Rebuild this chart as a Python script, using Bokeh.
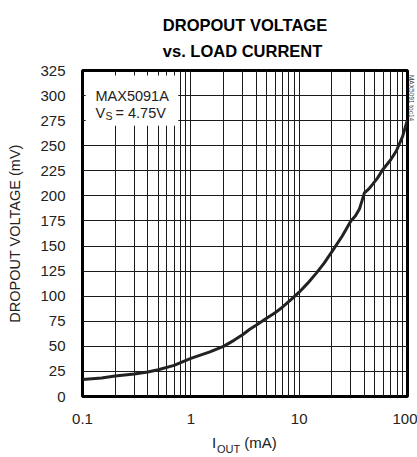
import math
from bokeh.plotting import figure
from bokeh.models import (Range1d, FixedTicker, Label, Title, BoxAnnotation, LogAxis,
                          LinearAxis, CustomJSTickFormatter)
from bokeh.embed import file_html
from bokeh.resources import INLINE

# ---- data ----
current_ma = [0.1, 0.15, 0.2, 0.3, 0.4, 0.5, 0.7, 1, 1.5, 2, 2.5, 3, 3.5, 4, 5, 6, 7, 8.5,
              10, 12, 14.4, 17, 20.5, 25, 30, 33, 36, 38, 40, 44, 48, 53, 59, 70, 79, 90, 100]
dropout_mv = [17, 18.5, 20.5, 22.5, 24.5, 26.7, 31, 38, 44.5, 50, 56, 61.5, 67, 71, 78, 83.5, 89, 97,
              104, 113, 123, 133, 146, 160, 175, 180, 187, 195, 203, 207, 212, 218, 226, 236, 245, 259, 276]

x_tick_values = [0.1, 1, 10, 100]
x_tick_labels = ["0.1", "1", "10", "100"]
x_grid_values = [0.1, 0.2, 0.3, 0.4, 0.5, 0.6, 0.7, 0.8, 0.9,
                 1, 2, 3, 4, 5, 6, 7, 8, 9,
                 10, 20, 30, 40, 50, 60, 70, 80, 90, 100]
y_tick_values = [0, 25, 50, 75, 100, 125, 150, 175, 200, 225, 250, 275, 300, 325]

title_lines = ["DROPOUT VOLTAGE", "vs. LOAD CURRENT"]
y_label = "DROPOUT VOLTAGE (mV)"
part_name = "MAX5091A"
supply_main, supply_sub, supply_rest = "V", "S", "= 4.75V"
xlab_main, xlab_sub, xlab_rest = "I", "OUT", "(mA)"
toc_text = "MAX5091 toc14"

FONT = "Liberation Sans"
NB = "\u00a0"

p = figure(width=417, height=457, x_axis_type="log",
           x_range=Range1d(0.1, 100), y_range=Range1d(0, 325),
           output_backend="svg", toolbar_location=None, title=None,
           min_border_left=82, min_border_right=8, min_border_top=70, min_border_bottom=60)

p.add_layout(Title(text="\n".join(title_lines), align="center", vertical_align="top",
                   text_font=FONT, text_font_size="16.5px", text_font_style="bold",
                   text_color="black", text_line_height=1.45, standoff=18), "above")

p.background_fill_color = "white"
p.border_fill_color = "white"
p.outline_line_color = "black"
p.outline_line_width = 3

# grids
p.xgrid.ticker = FixedTicker(ticks=x_grid_values)
p.ygrid.ticker = FixedTicker(ticks=y_tick_values)
for g in (p.xgrid, p.ygrid):
    g.grid_line_color = "#1a1a1a"
    g.grid_line_width = 1
    g.grid_line_alpha = 1


def style_axis(ax, size="15px"):
    ax.axis_line_color = None
    ax.major_tick_line_color = None
    ax.minor_tick_line_color = None
    ax.major_tick_out = 0
    ax.major_tick_in = 0
    ax.major_label_text_font = FONT
    ax.major_label_text_font_size = size
    ax.major_label_text_color = "#222222"


# main axes
p.xaxis.ticker = FixedTicker(ticks=x_tick_values)
p.xaxis.formatter = CustomJSTickFormatter(args=dict(labels=x_tick_labels), code="return labels[index]")
p.yaxis.ticker = FixedTicker(ticks=y_tick_values)
style_axis(p.xaxis[0])
style_axis(p.yaxis[0])
p.xaxis.major_label_standoff = 17
p.yaxis.major_label_standoff = 17
p.yaxis.axis_label = y_label
p.yaxis.axis_label_text_font = FONT
p.yaxis.axis_label_text_font_size = "14.5px"
p.yaxis.axis_label_text_font_style = "normal"
p.yaxis.axis_label_text_color = "#222222"
p.yaxis.axis_label_standoff = 14

# x-axis title "I_OUT (mA)" built from two extra label rows so the subscript can sit lower
xlab_positions = [1.643, 4.39]          # label anchor positions (layout only)
xsub_positions = [2.232]
ax_b = LogAxis(ticker=FixedTicker(ticks=xlab_positions),
               formatter=CustomJSTickFormatter(args=dict(labels=[xlab_main, xlab_rest]),
                                               code="return labels[index]"))
style_axis(ax_b, "15px")
ax_b.major_label_standoff = 7
p.add_layout(ax_b, "below")
ax_c = LogAxis(ticker=FixedTicker(ticks=xsub_positions),
               formatter=CustomJSTickFormatter(args=dict(labels=[xlab_sub]),
                                               code="return labels[index]"))
style_axis(ax_c, "11px")
ax_c.major_label_standoff = -11
p.add_layout(ax_c, "below")

# small rotated code on the right edge (as a right-side axis title)
ax_r = LinearAxis(ticker=FixedTicker(ticks=[]), axis_label=toc_text + NB * 150)
style_axis(ax_r, "6px")
ax_r.major_label_standoff = 0
ax_r.axis_label_standoff = 0
ax_r.axis_label_text_font = FONT
ax_r.axis_label_text_font_size = "6.5px"
ax_r.axis_label_text_font_style = "normal"
ax_r.axis_label_text_color = "#444444"
p.add_layout(ax_r, "right")

# white legend box in the upper-left
p.add_layout(BoxAnnotation(left=0.107, right=0.765, bottom=270, top=320,
                           fill_color="white", fill_alpha=1, line_color=None))

# curve
p.line(current_ma, dropout_mv, line_color="#222222", line_width=3)


def lab(text, xo, yo, size):
    p.add_layout(Label(x=0.1, y=325, x_offset=xo, y_offset=yo, text=text,
                       text_font=FONT, text_font_size=size, text_color="#222222",
                       text_baseline="alphabetic", text_align="left"))


# legend text
lab(part_name, 13, -25, "14.5px")
lab(supply_main, 13, -42, "14.5px")
lab(supply_sub, 23, -45, "10.5px")
lab(supply_rest, 33, -42, "14.5px")

open("out.html", "w").write(file_html(p, INLINE))
